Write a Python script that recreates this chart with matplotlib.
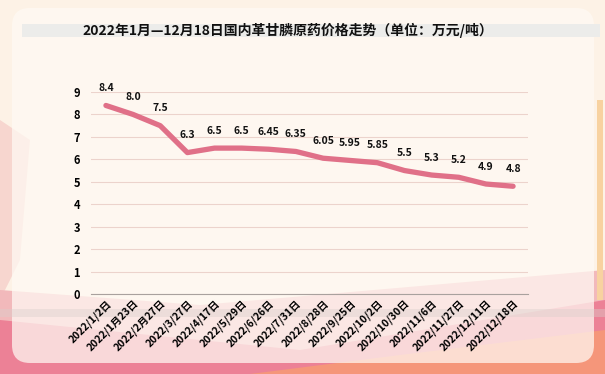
import matplotlib.pyplot as plt
import numpy as np
from matplotlib.patches import FancyBboxPatch, Rectangle, Polygon

plt.rcParams['font.family'] = ['Noto Sans CJK SC', 'DejaVu Sans']

# data
dates = ['2022/1/2日', '2022/1月23日', '2022/2月27日', '2022/3/27日', '2022/4/17日',
         '2022/5/29日', '2022/6/26日', '2022/7/31日', '2022/8/28日', '2022/9/25日',
         '2022/10/2日', '2022/10/30日', '2022/11/6日', '2022/11/27日', '2022/12/11日',
         '2022/12/18日']
prices = [8.4, 8.0, 7.5, 6.3, 6.5, 6.5, 6.45, 6.35, 6.05, 5.95, 5.85, 5.5, 5.3, 5.2, 4.9, 4.8]
price_labels = ['8.4', '8.0', '7.5', '6.3', '6.5', '6.5', '6.45', '6.35', '6.05', '5.95',
                '5.85', '5.5', '5.3', '5.2', '4.9', '4.8']
title = '2022年1月—12月18日国内革甘膦原药价格走势（单位：万元/吨）'

W, H = 605, 374
fig = plt.figure(figsize=(W / 100, H / 100), dpi=100)

# background decoration
bg = fig.add_axes([0, 0, 1, 1], zorder=0)
bg.set_xlim(0, W)
bg.set_ylim(H, 0)
bg.axis('off')
bg.add_patch(Rectangle((0, 0), W, H, color='#fdf2e6'))
# soft pink on the left edge
bg.add_patch(Polygon([(0, 120), (30, 140), (20, 260), (0, 300)], closed=True,
                     color='#f7d6cf', lw=0))
# pink / orange waves at the bottom
bg.add_patch(Polygon([(0, 290), (200, 305), (605, 270), (605, 374), (0, 374)], closed=True,
                     color='#f2b9bb', lw=0))
bg.add_patch(Polygon([(0, 320), (300, 350), (605, 300), (605, 374), (0, 374)], closed=True,
                     color='#ec8196', lw=0))
bg.add_patch(Polygon([(250, 374), (400, 355), (605, 330), (605, 374)], closed=True,
                     color='#f5967a', lw=0))
bg.add_patch(Rectangle((597, 100), 6, 200, color='#f8d2a0', lw=0))
# translucent panel
bg.add_patch(FancyBboxPatch((12, 8), 582, 355, boxstyle='round,pad=0,rounding_size=18',
                            fc='#fffaf4', ec='none', alpha=0.72))
# title band and band at bottom
bg.add_patch(Rectangle((22, 24), 578, 13, color='#ececea', lw=0))
bg.add_patch(Rectangle((0, 309), 605, 8, color='#d9cfcb', alpha=0.4, lw=0))
bg.text(288, 30, title, ha='center', va='center', fontsize=10, fontweight='bold', color='#111111')

# chart
ax = fig.add_axes([91 / W, 1 - 294 / H, (528 - 91) / W, (294 - 92) / H], zorder=1)
ax.patch.set_alpha(0)
x = np.arange(len(dates))
ax.plot(x, prices, color='#e07088', lw=3.8, solid_capstyle='round', solid_joinstyle='round')
for xi, v, s in zip(x, prices, price_labels):
    ax.text(xi, v + 0.55, s, ha='center', va='bottom', fontsize=7.5, fontweight='bold',
            color='#111111')

ax.set_xlim(-0.55, len(dates) - 0.45)
ax.set_ylim(0, 9)
ax.set_yticks(range(0, 10))
ax.grid(axis='y', color='#ecd3cc', lw=0.8)
ax.set_axisbelow(True)
for side in ['top', 'right', 'left']:
    ax.spines[side].set_visible(False)
ax.spines['bottom'].set_color('#a9a19e')
ax.tick_params(axis='both', length=0)
ax.tick_params(axis='y', pad=8, labelsize=8)
ax.set_yticklabels([str(i) for i in range(10)], fontweight='bold')
ax.set_xticks(x)
ax.set_xticklabels(dates, rotation=45, ha='right', rotation_mode='anchor', fontsize=7.5,
                   fontweight='bold')
ax.tick_params(axis='x', pad=3)

fig.savefig('out.png', dpi=100)
